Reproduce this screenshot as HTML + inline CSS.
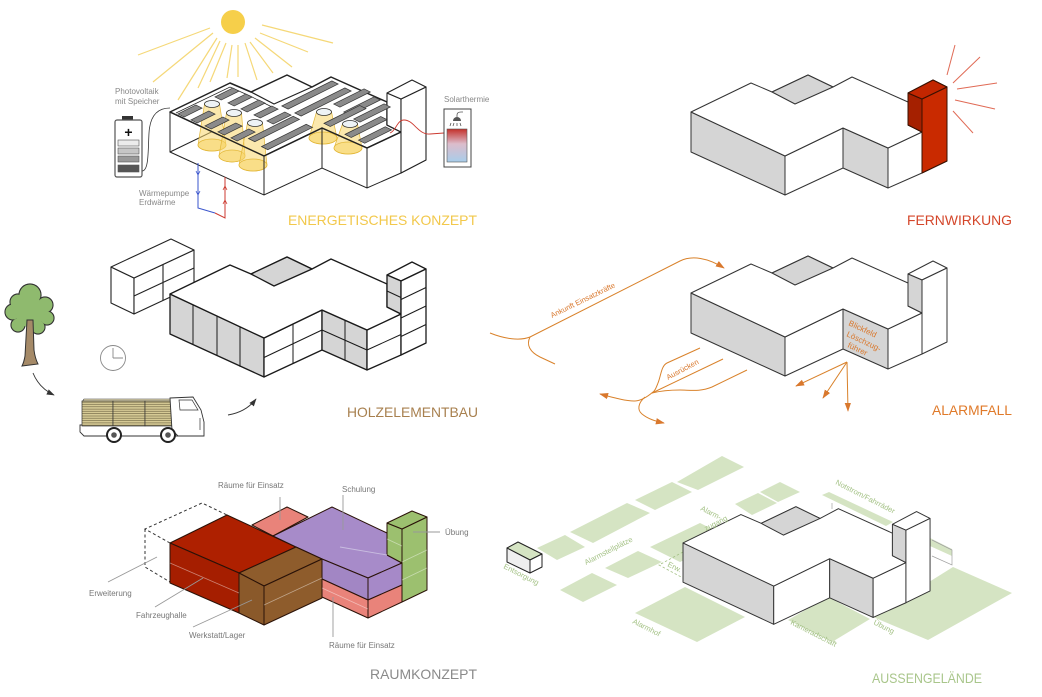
<!DOCTYPE html>
<html><head><meta charset="utf-8"><style>
html,body{margin:0;padding:0;background:#fff;}
svg{display:block;}
text{font-family:"Liberation Sans",Arial,sans-serif;}
</style></head><body>
<svg width="1042" height="697" viewBox="0 0 1042 697" xmlns="http://www.w3.org/2000/svg">
<defs>
<linearGradient id="tank" x1="0" y1="0" x2="0" y2="1"><stop offset="0" stop-color="#c4302a"/><stop offset="0.45" stop-color="#dcbccb"/><stop offset="1" stop-color="#a8cdea"/></linearGradient>
<pattern id="planks" width="6" height="2.3" patternUnits="userSpaceOnUse"><rect width="6" height="2.3" fill="#d6ca95"/><line x1="0" y1="2" x2="6" y2="2" stroke="#6b6140" stroke-width="0.6"/></pattern>
<marker id="ao" viewBox="0 0 10 10" refX="9" refY="5" markerWidth="9" markerHeight="9" orient="auto" markerUnits="userSpaceOnUse"><path d="M0,1.5 L10,5 L0,8.5 Z" fill="#d9782d"/></marker>
<marker id="ab" viewBox="0 0 10 10" refX="9" refY="5" markerWidth="8" markerHeight="8" orient="auto" markerUnits="userSpaceOnUse"><path d="M0,1.5 L10,5 L0,8.5 Z" fill="#333"/></marker>
<g id="bld" stroke-linejoin="round">
 <path d="M691,112 L785,156 L785,195 L691,152 Z" fill="#d5d5d5"/>
 <path d="M785,156 L843,128 L843,168 L785,195 Z" fill="#fff"/>
 <path d="M843,128 L888,148 L888,188 L843,168 Z" fill="#d5d5d5"/>
 <path d="M888,148 L922,132 L922,173 L888,188 Z" fill="#fff"/>
 <path d="M691,112 L751,83 L772,92 L808,75 L833,87 L852,77 L908,102 L908,125 L922,132 L888,148 L843,128 L785,156 Z" fill="#fff"/>
 <path d="M772,92 L808,75 L833,87 L795,104 Z" fill="#d5d5d5"/>
 <path d="M908,93 L933,80 L947,87 L922,99 Z" fill="#fff"/>
 <path d="M908,93 L922,99 L922,132 L908,125 Z" fill="#d5d5d5"/>
 <path d="M922,99 L947,87 L947,161 L922,173 Z" fill="#fff"/>
</g>
</defs>
<rect width="1042" height="697" fill="#fff"/>

<!-- ================= ENERGETISCHES KONZEPT ================= -->
<g stroke="#f5d878" stroke-width="1.2">
<line x1="210" y1="28" x2="138" y2="55"/>
<line x1="213" y1="33" x2="153" y2="82"/>
<line x1="217" y1="38" x2="178" y2="100"/>
<line x1="220" y1="41" x2="198" y2="88"/>
<line x1="226" y1="43" x2="210" y2="82"/>
<line x1="232" y1="45" x2="227" y2="78"/>
<line x1="238" y1="45" x2="238" y2="77"/>
<line x1="245" y1="43" x2="257" y2="80"/>
<line x1="250" y1="42" x2="273" y2="73"/>
<line x1="255" y1="38" x2="292" y2="67"/>
<line x1="260" y1="33" x2="308" y2="52"/>
<line x1="262" y1="25" x2="333" y2="43"/>
</g>
<circle cx="233" cy="22" r="12" fill="#f6cf4a"/>

<!-- battery -->
<rect x="122" y="116" width="11" height="4" fill="#333"/>
<rect x="115" y="120" width="27" height="57" rx="2" fill="#fff" stroke="#555" stroke-width="1.2"/>
<text x="128.5" y="137" font-size="14" font-weight="bold" text-anchor="middle" fill="#111">+</text>
<g stroke="#555" stroke-width="0.6">
<rect x="118" y="140" width="21" height="6" fill="#ececec"/>
<rect x="118" y="148" width="21" height="6" fill="#c6c6c6"/>
<rect x="118" y="156" width="21" height="6" fill="#999"/>
<rect x="118" y="165" width="21" height="7" fill="#555"/>
</g>
<path d="M142,171 C149,171 148,150 149,133 C150,115 158,108 170,108" fill="none" stroke="#333" stroke-width="0.8"/>
<text x="115" y="94" font-size="8" fill="#888">Photovoltaik</text>
<text x="115" y="104" font-size="8" fill="#888">mit Speicher</text>

<!-- energy building walls (wireframe) -->
<g fill="none" stroke="#222" stroke-width="1">
<path d="M170,112 V152 L264,195 L322,168 L367,188 L401,173 L426,160 V87"/>
<path d="M264,156 V195 M322,128 V168 M367,148 V188"/>
<path d="M170,152 L230,123"/>
</g>
<!-- roof -->
<path d="M170,112 L230,83 L251,92 L287,75 L312,87 L331,77 L387,102 L387,125 L401,132 L367,148 L322,128 L264,156 Z" fill="#fff" stroke="#222" stroke-width="1.5" stroke-linejoin="round"/>
<path d="M251,92 L274,104 L312,87" fill="none" stroke="#222" stroke-width="1.2"/>
<path d="M176,113 L230,87 L250,96 L272,107" fill="none" stroke="#222" stroke-width="0.7"/>
<!-- chimney -->
<g stroke="#222" stroke-width="1.1" stroke-linejoin="round">
<path d="M387,93 L401,99 L401,132 L387,125 Z" fill="#fff"/>
<path d="M401,99 L426,87 L426,160 L401,173 Z" fill="#fff"/>
<path d="M387,93 L412,80 L426,87 L401,99 Z" fill="#fff"/>
</g>
<!-- cones -->
<g fill="#f7d66a" fill-opacity="0.55" stroke="#e3b83a" stroke-width="0.7">
<path d="M204.5,104 L198,145 A14,6 0 0 0 226,145 L219.5,104 Z"/>
<ellipse cx="212" cy="145" rx="14" ry="6"/>
<path d="M226.5,113 L219,156 A13,6 0 0 0 245,156 L241.5,113 Z"/>
<ellipse cx="232" cy="156" rx="13" ry="6"/>
<path d="M247.5,123 L239,165 A14,6 0 0 0 267,165 L262.5,123 Z"/>
<ellipse cx="253" cy="165" rx="14" ry="6"/>
<path d="M316.5,112 L309,138 A14,6 0 0 0 337,138 L331.5,112 Z"/>
<ellipse cx="323" cy="138" rx="14" ry="6"/>
<path d="M342.5,124 L334,148 A14,6 0 0 0 362,148 L357.5,124 Z"/>
<ellipse cx="348" cy="148" rx="14" ry="6"/>
</g>
<!-- front edges over cones -->
<path d="M170,112 L264,156 L322,128 L367,148 L401,132" fill="none" stroke="#222" stroke-width="1.3"/>
<path d="M264,156 V195 M322,128 V168" fill="none" stroke="#222" stroke-width="1"/>
<!-- panels -->
<g fill="#8a8a8a" stroke="#333" stroke-width="0.7">
<rect x="-10" y="-3.5" width="20" height="7" transform="matrix(.894,-.447,.894,.447,227,94)" vector-effect="non-scaling-stroke"/>
<rect x="-10" y="-3.5" width="20" height="7" transform="matrix(.894,-.447,.894,.447,240,100)" vector-effect="non-scaling-stroke"/>
<rect x="-10" y="-3.5" width="20" height="7" transform="matrix(.894,-.447,.894,.447,253,106)" vector-effect="non-scaling-stroke"/>
<rect x="-10" y="-3.5" width="20" height="7" transform="matrix(.894,-.447,.894,.447,266,112)" vector-effect="non-scaling-stroke"/>
<rect x="-10" y="-3.5" width="20" height="7" transform="matrix(.894,-.447,.894,.447,279,118)" vector-effect="non-scaling-stroke"/>
<rect x="-10" y="-3.5" width="20" height="7" transform="matrix(.894,-.447,.894,.447,190,111)" vector-effect="non-scaling-stroke"/>
<rect x="-10" y="-3.5" width="20" height="7" transform="matrix(.894,-.447,.894,.447,203,117)" vector-effect="non-scaling-stroke"/>
<rect x="-10" y="-3.5" width="20" height="7" transform="matrix(.894,-.447,.894,.447,217,123)" vector-effect="non-scaling-stroke"/>
<rect x="-10" y="-3.5" width="20" height="7" transform="matrix(.894,-.447,.894,.447,230,129)" vector-effect="non-scaling-stroke"/>
<rect x="-10" y="-3.5" width="20" height="7" transform="matrix(.894,-.447,.894,.447,243,135)" vector-effect="non-scaling-stroke"/>
<rect x="-25" y="-3.5" width="50" height="7" transform="matrix(.894,-.447,.894,.447,274,129)" vector-effect="non-scaling-stroke"/>
<rect x="-25" y="-3.5" width="50" height="7" transform="matrix(.894,-.447,.894,.447,287,137)" vector-effect="non-scaling-stroke"/>
<rect x="-28" y="-3.5" width="56" height="7" transform="matrix(.894,-.447,.894,.447,310,95)" vector-effect="non-scaling-stroke"/>
<rect x="-28" y="-3.5" width="56" height="7" transform="matrix(.894,-.447,.894,.447,323,102)" vector-effect="non-scaling-stroke"/>
<rect x="-17" y="-3.5" width="34" height="7" transform="matrix(.894,-.447,.894,.447,352,98)" vector-effect="non-scaling-stroke"/>
<rect x="-17" y="-3.5" width="34" height="7" transform="matrix(.894,-.447,.894,.447,362,106)" vector-effect="non-scaling-stroke"/>
<rect x="-17" y="-3.5" width="34" height="7" transform="matrix(.894,-.447,.894,.447,372,113)" vector-effect="non-scaling-stroke"/>
<rect x="-20" y="-3.5" width="40" height="7" transform="matrix(.894,-.447,.894,.447,345,116)" vector-effect="non-scaling-stroke"/>
<rect x="-20" y="-3.5" width="40" height="7" transform="matrix(.894,-.447,.894,.447,366,127)" vector-effect="non-scaling-stroke"/>
<rect x="-15" y="-3.5" width="30" height="7" transform="matrix(.894,-.447,.894,.447,375,135)" vector-effect="non-scaling-stroke"/>
</g>
<!-- skylights -->
<g fill="#eef3f6" stroke="#333" stroke-width="0.8">
<ellipse cx="212" cy="104" rx="7.5" ry="3.5"/>
<ellipse cx="234" cy="113" rx="7.5" ry="3.5"/>
<ellipse cx="255" cy="123" rx="7.5" ry="3.5"/>
<ellipse cx="324" cy="112" rx="7.5" ry="3.5"/>
<ellipse cx="350" cy="124" rx="7.5" ry="3.5"/>
</g>
<!-- pipes -->
<path d="M198,163 V208 L215,213" fill="none" stroke="#3a55cc" stroke-width="1"/>
<path d="M215,213 L225,218 V177" fill="none" stroke="#cc3a30" stroke-width="1"/>
<path d="M196,171 L198,175 L200,171 M196,191 L198,195 L200,191" fill="none" stroke="#3a55cc" stroke-width="0.8"/>
<path d="M223,190 L225,186 L227,190 M223,204 L225,200 L227,204" fill="none" stroke="#cc3a30" stroke-width="0.8"/>
<text x="139" y="196" font-size="8" fill="#888">Wärmepumpe</text>
<text x="139" y="205" font-size="8" fill="#888">Erdwärme</text>
<!-- solarthermie -->
<path d="M390,133 C396,131 397,120 404,120 C414,120 418,135 430,134 L444,133" fill="none" stroke="#cc3a30" stroke-width="0.9"/>
<rect x="444" y="109" width="27" height="58" fill="#fff" stroke="#444" stroke-width="1"/>
<rect x="447" y="129" width="20" height="33" fill="url(#tank)" stroke="#555" stroke-width="0.6"/>
<path d="M453,121 A4,4 0 0 1 461,121 Z" fill="#555"/>
<path d="M457,117 V115 Q457,112 461,112 L463,112 M451,123 L450,126 M454,123 L453,126 M457,123 L457,126 M460,123 L461,126" fill="none" stroke="#555" stroke-width="0.8"/>
<text x="444" y="102" font-size="8" fill="#888">Solarthermie</text>
<text x="288" y="225" font-size="14" fill="#f2c84b" textLength="189" lengthAdjust="spacingAndGlyphs">ENERGETISCHES KONZEPT</text>

<!-- ================= FERNWIRKUNG ================= -->
<use href="#bld" stroke="#333" stroke-width="1"/>
<g stroke="#3a1000" stroke-width="1" stroke-linejoin="round">
<path d="M908,93 L922,99 L922,132 L908,125 Z" fill="#a52000"/>
<path d="M922,99 L947,87 L947,161 L922,173 Z" fill="#c92a00"/>
<path d="M908,93 L933,80 L947,87 L922,99 Z" fill="#c22600"/>
</g>
<g stroke="#e06a55" stroke-width="1">
<line x1="947" y1="75" x2="955" y2="45"/>
<line x1="953" y1="83" x2="980" y2="57"/>
<line x1="957" y1="89" x2="997" y2="83"/>
<line x1="955" y1="100" x2="995" y2="109"/>
<line x1="953" y1="111" x2="973" y2="133"/>
</g>
<text x="907" y="225" font-size="14" fill="#d4462a" textLength="105" lengthAdjust="spacingAndGlyphs">FERNWIRKUNG</text>

<!-- ================= HOLZELEMENTBAU ================= -->
<!-- floating box -->
<g stroke="#222" stroke-width="1.1" stroke-linejoin="round" fill="#fff">
<path d="M111,267 L134,278 L134,314 L111,303 Z"/>
<path d="M134,278 L194,250 L194,286 L134,314 Z"/>
<path d="M111,267 L171,239 L194,250 L134,278 Z"/>
<path d="M134,296 L194,268 M163,264.5 V300.5" fill="none"/>
</g>
<use href="#bld" transform="translate(-521,182)" stroke="#1a1a1a" stroke-width="1.3"/>
<g stroke="#1a1a1a" stroke-width="1" fill="none">
<path d="M193,304.8 V344.8 M217,316 V356 M240,326.8 V366.8"/>
<path d="M264,357.5 L322,330 M293,324 V363"/>
<path d="M322,330 L367,350 M345,320.2 V360.2"/>
<path d="M367,350 L401,334.5"/>
<path d="M401,299.5 L426,287.5 M401,318 L426,306 M401,336.5 L426,324.5 M387,291 L401,297.5"/>
</g>
<!-- tree -->
<g fill="#8fba6e" stroke="#333" stroke-width="1.2">
<circle cx="13" cy="312" r="8"/><circle cx="18" cy="302" r="8"/><circle cx="30" cy="295" r="11"/>
<circle cx="45" cy="305" r="8"/><circle cx="47" cy="318" r="7"/><circle cx="38" cy="327" r="7"/>
<circle cx="18" cy="325" r="7"/>
</g>
<g fill="#8fba6e">
<circle cx="13" cy="312" r="7.4"/><circle cx="18" cy="302" r="7.4"/><circle cx="30" cy="295" r="10.4"/>
<circle cx="45" cy="305" r="7.4"/><circle cx="47" cy="318" r="6.4"/><circle cx="38" cy="327" r="6.4"/>
<circle cx="18" cy="325" r="6.4"/><circle cx="30" cy="312" r="15"/>
</g>
<path d="M27,320 L25,356 Q24,362 22,366 L38,364 Q35,358 34,350 L33,320 Z" fill="#a58a68" stroke="#333" stroke-width="1"/>
<!-- clock -->
<circle cx="113" cy="358" r="12.5" fill="none" stroke="#888" stroke-width="0.9"/>
<path d="M113,358 V348 M113,358 H123" stroke="#888" stroke-width="0.9" fill="none"/>
<!-- arrows -->
<path d="M33,373 Q39,388 54,395" fill="none" stroke="#333" stroke-width="0.9" marker-end="url(#ab)"/>
<path d="M228,415 Q246,412 256,399" fill="none" stroke="#333" stroke-width="0.9" marker-end="url(#ab)"/>
<!-- truck -->
<path d="M80,425 L178,425 L178,436 L84,436 L80,432 Z" fill="#fff" stroke="#333" stroke-width="0.9"/>
<path d="M84,399 L176,399 L178,402 L82,402 Z" fill="#e6ddb5" stroke="#333" stroke-width="0.6"/>
<g stroke="#333" stroke-width="0.7">
<rect x="82" y="401" width="31" height="25" fill="url(#planks)"/>
<rect x="113" y="401" width="32" height="25" fill="url(#planks)"/>
<rect x="145" y="401" width="32" height="25" fill="url(#planks)"/>
</g>
<path d="M170,398 L193,397 L201,410 L204,422 L204,436 L178,436 L172,430 Z" fill="#fff" stroke="#333" stroke-width="0.9"/>
<path d="M179,400 L192,400 L198,410 L180,410 Z" fill="#fff" stroke="#333" stroke-width="0.7"/>
<path d="M200,418 V430" stroke="#333" stroke-width="0.7"/>
<circle cx="114" cy="435" r="7" fill="#fff" stroke="#222" stroke-width="2"/><circle cx="114" cy="435" r="2.8" fill="#555"/>
<circle cx="168" cy="435" r="7" fill="#fff" stroke="#222" stroke-width="2"/><circle cx="168" cy="435" r="2.8" fill="#555"/>
<text x="347" y="417" font-size="14" fill="#a8804f" textLength="131" lengthAdjust="spacingAndGlyphs">HOLZELEMENTBAU</text>

<!-- ================= ALARMFALL ================= -->
<use href="#bld" transform="translate(0,181)" stroke="#333" stroke-width="1"/>
<g fill="none" stroke="#d9822b" stroke-width="1">
<path d="M490,333 C505,339 520,341 530,337 L680,261 C692,255 708,258 724,268" marker-end="url(#ao)"/>
<path d="M530,337 C526,345 530,352 540,357 L555,364"/>
<path d="M700,348 L667,363 C661,366 661,376 658,383 C656,388 655,391 652,393"/>
<path d="M723,359 L652,393"/>
<path d="M747,370 L712,387 C700,392 690,390 680,390 C670,390 660,391 652,393"/>
<path d="M653,392 C646,398 640,401 634,401 C626,401 615,398 600,394" marker-end="url(#ao)"/>
<path d="M645,397 C638,403 637,410 642,414 C648,419 655,421 664,423" marker-end="url(#ao)"/>
<path d="M847,362 L796,386" marker-end="url(#ao)"/>
<path d="M847,362 L823,398" marker-end="url(#ao)"/>
<path d="M847,362 L848,411" marker-end="url(#ao)"/>
</g>
<text x="552" y="318" font-size="7.5" fill="#d9782d" transform="rotate(-26 552 318)">Ankunft Einsatzkräfte</text>
<text x="668" y="380" font-size="7.5" fill="#d9782d" transform="rotate(-28 668 380)">Ausrücken</text>
<g font-size="8" fill="#d9782d">
<text x="848" y="325" transform="rotate(25 848 325)">Blickfeld</text>
<text x="846" y="336" transform="rotate(25 846 336)">Löschzug-</text>
<text x="847" y="347" transform="rotate(25 847 347)">führer</text>
</g>
<text x="932" y="415" font-size="14" fill="#e07a2a" textLength="80" lengthAdjust="spacingAndGlyphs">ALARMFALL</text>

<!-- ================= RAUMKONZEPT ================= -->
<g fill="none" stroke="#333" stroke-width="1" stroke-dasharray="3,2.5">
<path d="M170,543 L145,529 L202,503 L227,515 M145,529 V567 L170,582"/>
</g>
<g stroke="#2a1208" stroke-width="1" stroke-linejoin="round">
<path d="M252,525 L287,507 L308,517 L273,536 Z" fill="#e9837a"/>
<path d="M170,543 L227,515 L296,547 L239,573 Z" fill="#ae2000"/>
<path d="M170,543 L239,573 L239,613 L170,583 Z" fill="#a51e00"/>
<path d="M273,536 L332,507 L387,533 L387,555 L402,563 L368,578 L322,559 L296,547 Z" fill="#a78bc9"/>
<path d="M322,559 L368,578 L368,600 L322,579 Z" fill="#a286c4"/>
<path d="M368,578 L402,563 L402,585 L368,600 Z" fill="#a689c8"/>
<path d="M322,579 L368,600 L368,618 L322,597 Z" fill="#e9837a"/>
<path d="M368,600 L402,585 L402,602 L368,618 Z" fill="#e9837a"/>
<path d="M239,573 L296,547 L322,559 L264,586 Z" fill="#8e5c2c"/>
<path d="M239,573 L264,586 L264,625 L239,613 Z" fill="#8a592a"/>
<path d="M264,586 L322,559 L322,598 L264,625 Z" fill="#8e5c2c"/>
<path d="M387,523 L402,529 L402,563 L387,555 Z" fill="#9cc06f"/>
<path d="M402,529 L427,517 L427,590 L402,602 Z" fill="#9cc06f"/>
<path d="M387,523 L412,511 L427,517 L402,529 Z" fill="#9cc06f"/>
</g>
<g stroke="#fff" stroke-opacity="0.45" stroke-width="0.7" fill="none">
<path d="M170,563 L239,593 M264,605 L322,578 M322,588 L368,609 M402,562 L427,550 M402,580 L427,568 M387,539 L402,546"/>
</g>
<g stroke="#999" stroke-width="0.9" fill="none">
<path d="M280,497 V520 M343,495 V530 M413,532 H440 M108,582 L157,557 M155,607 L203,578 M193,627 L252,600 M333,597 V637"/>
<path d="M340,547 L387,555" stroke="#c9bde0"/>
</g>
<g font-size="8" fill="#777">
<text x="218" y="488">Räume für Einsatz</text>
<text x="342" y="492">Schulung</text>
<text x="445" y="535">Übung</text>
<text x="89" y="596">Erweiterung</text>
<text x="136" y="618">Fahrzeughalle</text>
<text x="189" y="638">Werkstatt/Lager</text>
<text x="329" y="648">Räume für Einsatz</text>
</g>
<text x="370" y="679" font-size="14" fill="#8a8a8a" textLength="107" lengthAdjust="spacingAndGlyphs">RAUMKONZEPT</text>

<!-- ================= AUSSENGELÄNDE ================= -->
<g fill="#d5e4c3">
<path d="M677,482 L722,456 L744,467 L698,490 Z"/>
<path d="M635,500 L672,482 L692,492 L655,510 Z"/>
<path d="M570,532 L627,503 L650,513 L593,543 Z"/>
<path d="M537,548 L565,535 L585,547 L557,560 Z"/>
<path d="M560,590 L592,573 L617,585 L583,602 Z"/>
<path d="M605,568 L638,551 L662,562 L628,578 Z"/>
<path d="M650,547 L700,523 L730,538 L680,562 Z"/>
<path d="M735,504 L758,493 L777,503 L752,515 Z"/>
<path d="M760,492 L780,482 L800,492 L778,502 Z"/>
<path d="M822,495 L829,492 L893,522 L886,526 Z"/>
<path d="M635,613 L685,587 L745,617 L697,642 Z"/>
<path d="M788,620 L828,597 L870,619 L832,642 Z"/>
<path d="M873,617 L953,567 L1012,593 L928,640 Z"/>
<path d="M930,538 L952,549 L952,556 L930,546 Z"/>
</g>
<path d="M932,540 L952,550 L952,565 L932,556 M832,503 V509" fill="none" stroke="#a0a0a0" stroke-width="0.7"/>
<path d="M683,552 L659,565 L683,578" fill="none" stroke="#a3c184" stroke-width="0.8" stroke-dasharray="2.5,2"/>
<!-- entsorgung box -->
<g stroke="#222" stroke-width="1" stroke-linejoin="round">
<path d="M507,548 L518,542 L542,554 L530,560 Z" fill="#d5e4c3"/>
<path d="M507,548 L530,560 L530,573 L507,562 Z" fill="#efefef"/>
<path d="M530,560 L542,554 L542,567 L530,573 Z" fill="#fff"/>
</g>
<use href="#bld" transform="matrix(0.965,0,0,0.98,16.2,433.2)" stroke="#333" stroke-width="1"/>
<g font-size="7.5" fill="#a3c184">
<text x="503" y="568" transform="rotate(27 503 568)">Entsorgung</text>
<text x="586" y="565" transform="rotate(-27 586 565)">Alarmstellplätze</text>
<text x="700" y="510" transform="rotate(27 700 510)">Alarm-</text>
<text x="706" y="531" transform="rotate(-27 706 531)">zugang</text>
<text x="667" y="566" transform="rotate(27 667 566)">Erw.</text>
<text x="835" y="484" transform="rotate(27 835 484)">Notstrom/Fahrräder</text>
<text x="632" y="623" transform="rotate(27 632 623)">Alarmhof</text>
<text x="790" y="624" transform="rotate(27 790 624)">Kameradschaft</text>
<text x="873" y="624" transform="rotate(27 873 624)">Übung</text>
</g>
<text x="872" y="683" font-size="14" fill="#a9c68b" textLength="110" lengthAdjust="spacingAndGlyphs">AUSSENGELÄNDE</text>
</svg>
</body></html>
